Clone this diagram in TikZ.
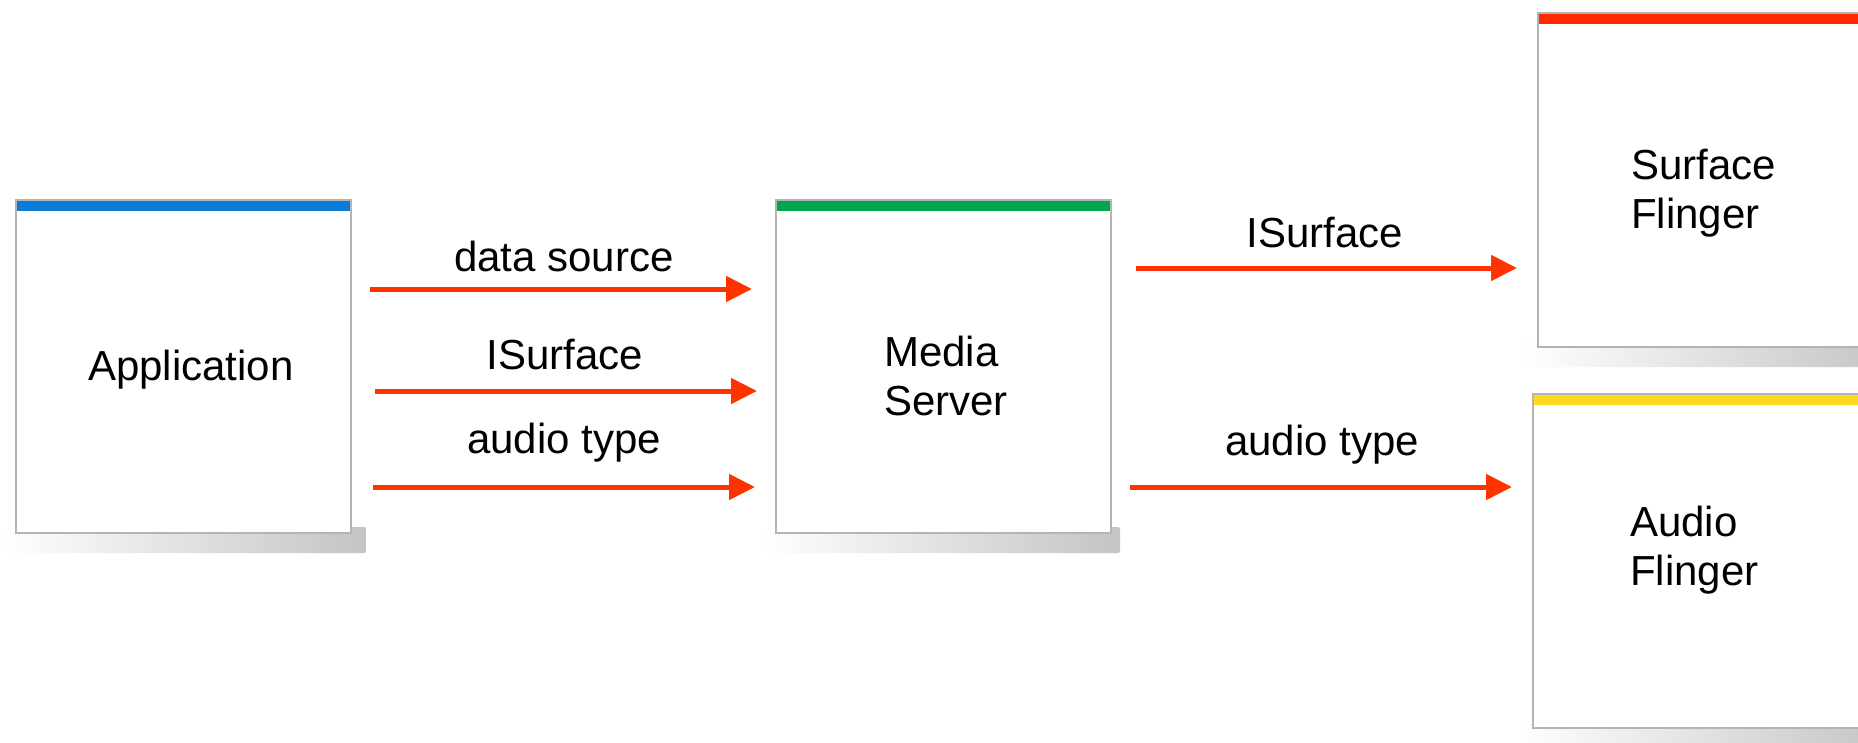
\documentclass[tikz,border=0pt]{standalone}
\usepackage{fontspec}
\setmainfont{Liberation Sans}
\usetikzlibrary{arrows.meta}

\definecolor{boxgray}{HTML}{B4B4B4}
\definecolor{shadowgray}{HTML}{C4C4C4}
\definecolor{appblue}{HTML}{0A7BD6}
\definecolor{msgreen}{HTML}{00A54F}
\definecolor{sfred}{HTML}{FF2A00}
\definecolor{afyellow}{HTML}{FFD822}
\definecolor{arrowred}{HTML}{FF3300}

\tikzset{
  box/.style={draw=boxgray, line width=2pt, fill=white, inner sep=0pt,
    path picture={\fill[#1] (path picture bounding box.north west)
      rectangle ([yshift=-11pt]path picture bounding box.north east);}},
  boxshadow/.style={left color=white, right color=shadowgray, rounded corners=2pt},
  txt/.style={font=\fontsize{42}{49}\selectfont, inner sep=0pt, text=black},
  arr/.style={draw=arrowred, line width=5pt,
    -{Triangle[length=26pt, width=25pt]}},
}

\begin{document}
\begin{tikzpicture}[x=1pt, y=-1pt]
  \fill[white] (0,0) rectangle (1858,742);
  \clip (0,0) rectangle (1858,742);

  % soft shadows under the blocks
  \shade[boxshadow] (0,527) rectangle (366,553);
  \shade[boxshadow] (760,527) rectangle (1120,553);
  \shade[boxshadow] (1520,340) rectangle (1890,367);
  \shade[boxshadow] (1515,721) rectangle (1890,750);

  % blocks
  \node[box=appblue, minimum width=335pt, minimum height=333pt] (app) at (183.5,366.5) {};
  \node[box=msgreen, minimum width=335pt, minimum height=333pt] (ms) at (943.5,366.5) {};
  \node[box=sfred, minimum width=330pt, minimum height=334pt] (sf) at (1703,180) {};
  \node[box=afyellow, minimum width=335pt, minimum height=334pt] (af) at (1700.5,561) {};

  % block titles (base of a two-line title is its last line)
  \node[txt, anchor=base] (appt) at (191,380) {Application};
  \node[txt, align=left, anchor=base west] (mst) at (884,415) {Media\\Server};
  \node[txt, align=left, anchor=base west] (sft) at (1631,228) {Surface\\Flinger};
  \node[txt, align=left, anchor=base west] (aft) at (1630,585) {Audio\\Flinger};

  % arrow rows
  \coordinate (r1) at (0,289);
  \coordinate (r2) at (0,391);
  \coordinate (r3) at (0,487);
  \coordinate (r4) at (0,268);

  \draw[arr, shorten <=18pt, shorten >=23pt] (app.east |- r1) -- (ms.west |- r1);
  \draw[arr, shorten <=23pt, shorten >=18pt] (app.east |- r2) -- (ms.west |- r2);
  \draw[arr, shorten <=21pt, shorten >=20pt] (app.east |- r3) -- (ms.west |- r3);
  \draw[arr, shorten <=24pt, shorten >=20pt] (ms.east |- r4) -- (sf.west |- r4);
  \draw[arr, shorten <=18pt, shorten >=20pt] (ms.east |- r3) -- (af.west |- r3);

  % arrow labels
  \node[txt, anchor=base] (l1) at (564,271) {data source};
  \node[txt, anchor=base] (l2) at (565,369) {ISurface};
  \node[txt, anchor=base] (l3) at (564,453) {audio type};
  \node[txt, anchor=base] (l4) at (1325,247) {ISurface};
  \node[txt, anchor=base] (l5) at (1322,455) {audio type};
\end{tikzpicture}
\end{document}
